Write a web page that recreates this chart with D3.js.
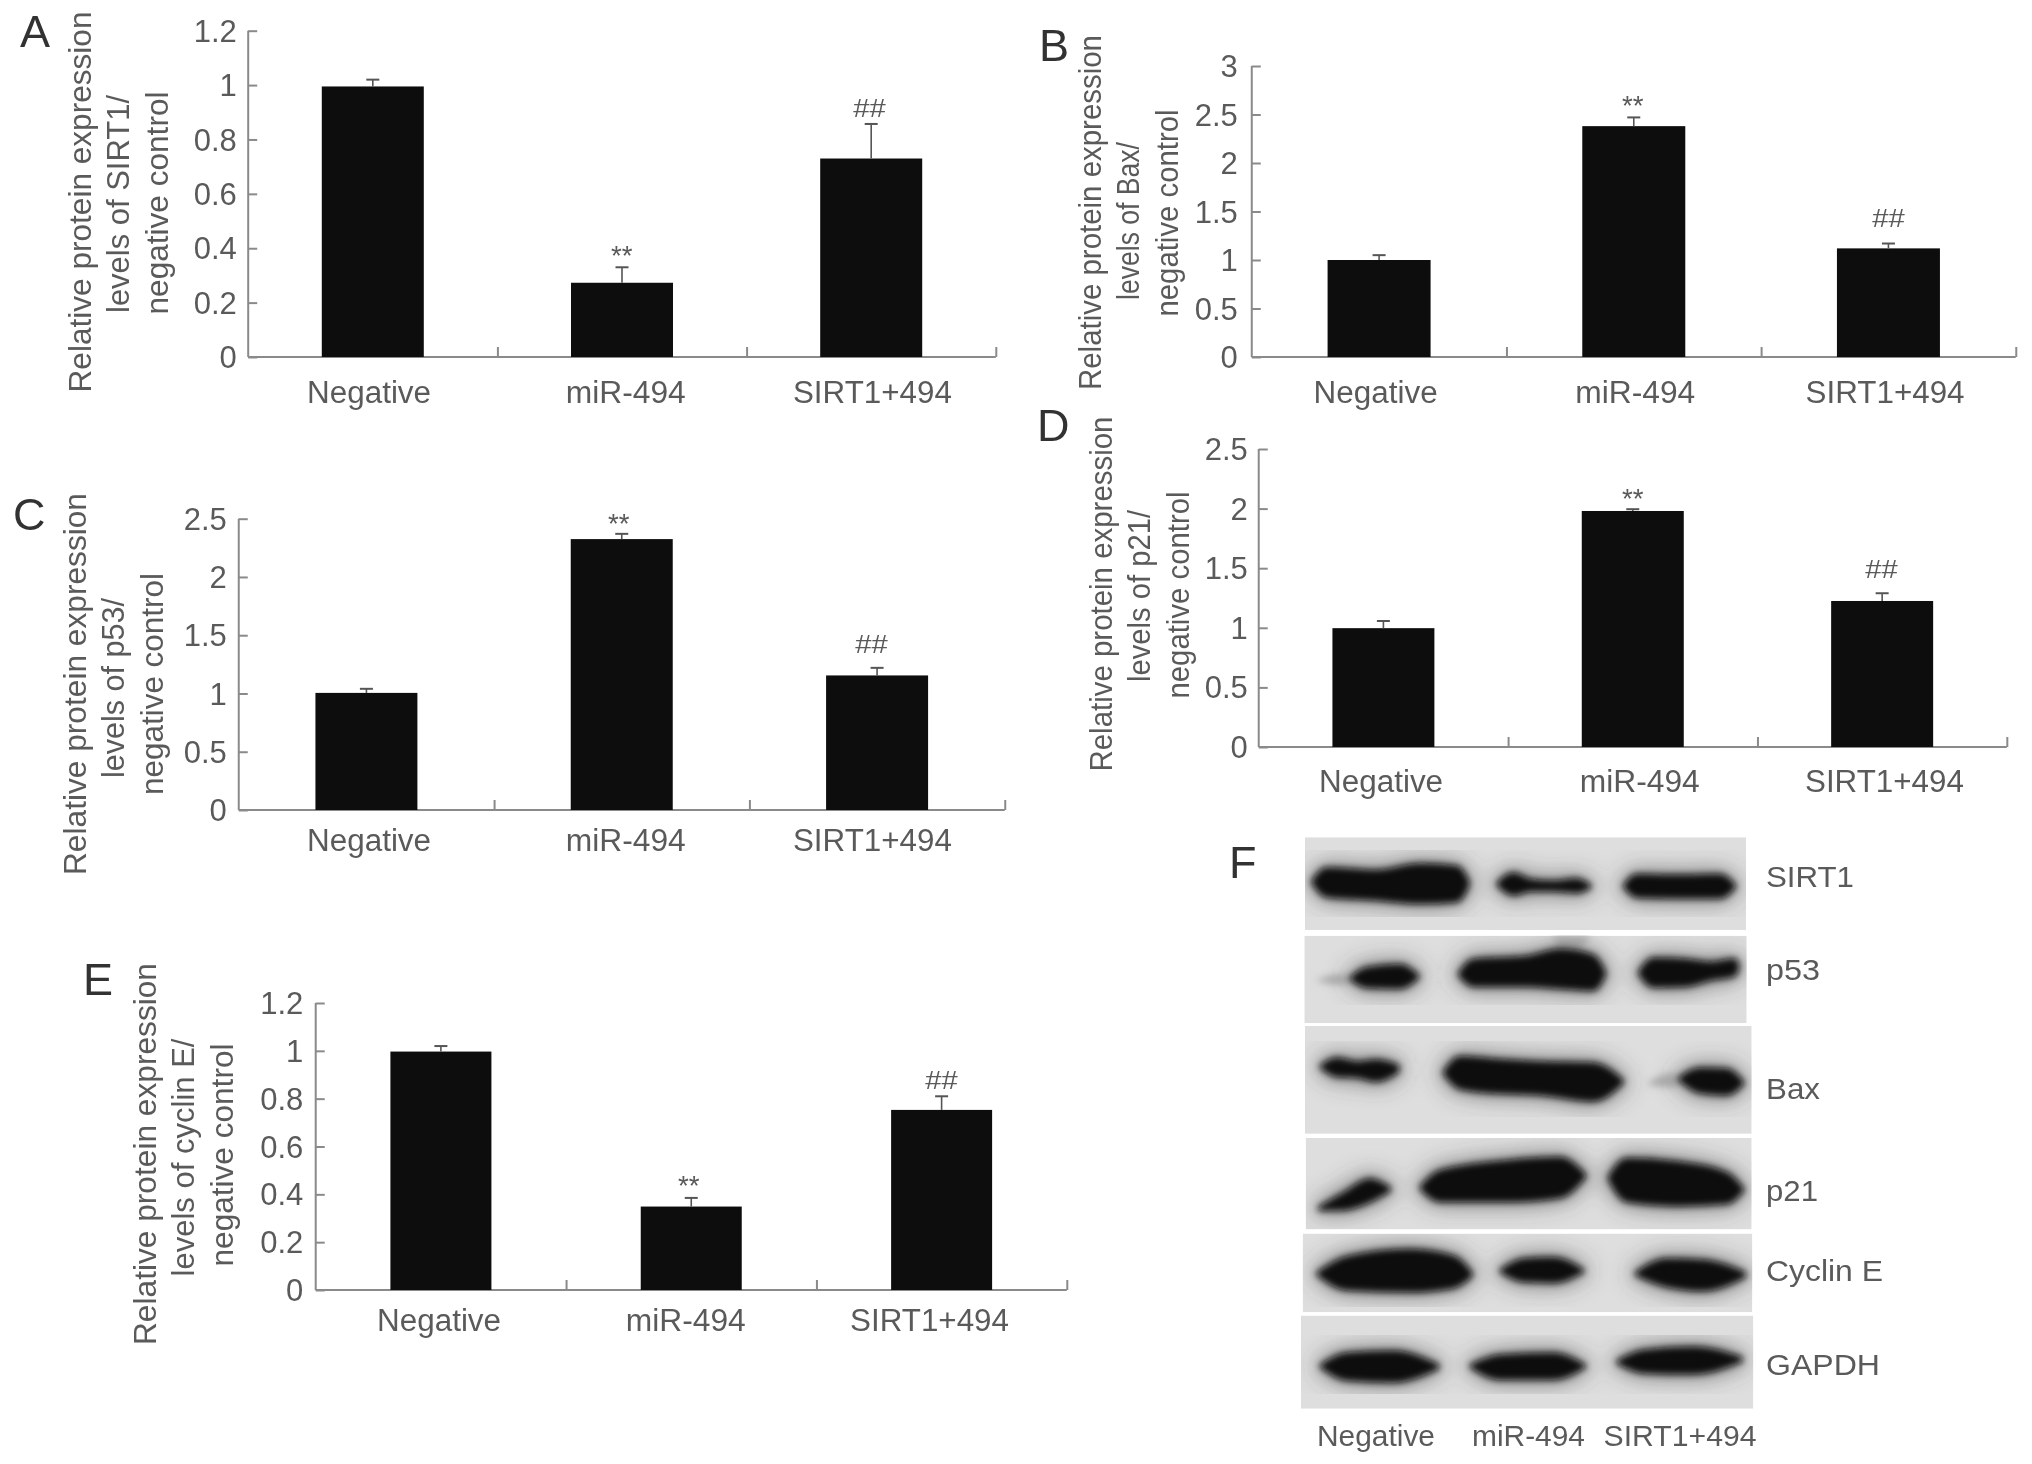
<!DOCTYPE html>
<html><head><meta charset="utf-8">
<script src="https://cdn.jsdelivr.net/npm/d3@7/dist/d3.min.js"></script>
<style>html,body{margin:0;padding:0;background:#fff}svg{display:block}text{font-family:"Liberation Sans",Arial,sans-serif}</style>
</head><body><svg id="c" width="2032" height="1464"></svg>
<script>
// ---------- data ----------
const categories = ["Negative", "miR-494", "SIRT1+494"];
const valuesA = [0.995, 0.273, 0.73],  errTopA = [1.02, 0.33, 0.857];
const valuesB = [1.0, 2.38, 1.12],     errTopB = [1.05, 2.47, 1.17];
const valuesC = [1.005, 2.325, 1.155], errTopC = [1.04, 2.37, 1.22];
const valuesD = [0.997, 1.98, 1.225],  errTopD = [1.057, 1.995, 1.29];
const valuesE = [0.997, 0.349, 0.753], errTopE = [1.02, 0.385, 0.81];
const ticks12 = [0, 0.2, 0.4, 0.6, 0.8, 1, 1.2];
const ticks30 = [0, 0.5, 1, 1.5, 2, 2.5, 3];
const ticks25 = [0, 0.5, 1, 1.5, 2, 2.5];
const blotLabels = ["SIRT1", "p53", "Bax", "p21", "Cyclin E", "GAPDH"];
// blot band outlines, in blot units: [along, upper edge, lower edge]
const bandsSIRT1 = [
  [[160,150,152],[200,120,184],[350,126,192],[480,110,200],[590,116,196],[622,150,160]],
  [[715,155,157],[760,132,180],[810,148,170],[880,152,170],[950,146,174],[988,160,163]],
  [[1095,160,162],[1130,136,185],[1250,138,187],[1380,136,187],[1422,160,163]]];
const bandsP53 = [
  [[275,385,387],[320,363,405],[420,356,407],[472,380,383]],
  [[600,375,377],[640,343,402],[800,336,402],[900,318,407],[1000,333,412],[1032,372,376]],
  [[1140,372,374],[1180,340,404],[1280,343,402],[1350,350,387],[1425,342,376],[1432,355,358]]];
const bandsBax = [
  [[185,600,602],[230,583,622],[290,593,624],[350,588,634],[412,600,612]],
  [[555,615,618],[600,580,652],[700,586,662],[850,593,667],[1000,596,682],[1085,635,640]],
  [[1260,630,632],[1320,608,662],[1400,610,667],[1447,640,642]]];
const bandsP21 = [
  [[180,945,948],[250,913,947],[330,878,927],[387,898,902]],
  [[485,895,897],[540,858,927],[750,833,927],[900,826,917],[972,865,870]],
  [[1050,870,875],[1100,828,927],[1250,836,937],[1400,863,932],[1447,900,902]]];
const bandsCyclinE = [
  [[175,1105,1107],[260,1068,1142],[450,1050,1147],[580,1066,1137],[632,1105,1110]],
  [[725,1098,1100],[790,1073,1122],[880,1070,1124],[967,1098,1100]],
  [[1130,1105,1107],[1220,1073,1134],[1330,1076,1144],[1452,1105,1112]]];
const bandsGAPDH = [
  [[185,1330,1332],[260,1303,1362],[400,1298,1367],[532,1330,1335]],
  [[635,1330,1332],[720,1308,1360],[880,1303,1360],[972,1330,1332]],
  [[1075,1320,1322],[1150,1296,1344],[1300,1288,1347],[1442,1312,1318]]];
const faintBands = [
  [[170,390,392],[240,376,402],[290,385,387]],
  [[1165,640,645],[1230,618,652],[1275,632,636]],
  [[880,285,287],[920,285,330],[990,285,287]]];

// ---------- layout ----------
const TICK = "#5a5a5a", AXIS = "#8a8a8a", BAR = "#111";
const k = 0.9948;
const fx = (ox, v) => ox + (v - ox) * k;
const panels = [
 {ox:0,letter:"A",lx:20,lb:47,x0:249.5,x1:1001,yt:30.7,yb:357,max:1.2,ticks:ticks12,v:valuesA,e:errTopA,bw:102,tr:238,
  labels:[371,629,877],lbase:403,
  title:[["Relative protein expression",91,202,381],["levels of SIRT1/",130,204,218],["negative control",169,203,223]],
  star:[625,250],hash:[874,108]},
 {ox:1016,letter:"B",lx:1039,lb:61,x0:1253,x1:2021,yt:66,yb:357,max:3,ticks:ticks30,v:valuesB,e:errTopB,bw:103,tr:1239,
  labels:[1377.5,1638.5,1889.6],lbase:403,
  title:[["Relative protein expression",1101,212.5,355],["levels of Bax/",1140,221,158],["negative control",1179,213,207]],
  star:[1636,100],hash:[1893,218]},
 {ox:0,letter:"C",lx:13,lb:530,x0:240,x1:1010,yt:518.7,yb:810,max:2.5,ticks:ticks25,v:valuesC,e:errTopC,bw:102,tr:228,
  labels:[371,629,877],lbase:851,
  title:[["Relative protein expression",86,684,382],["levels of p53/",125,688,180],["negative control",164,684,222]],
  star:[622,518],hash:[876,644]},
 {ox:1016,letter:"D",lx:1037,lb:441,x0:1260,x1:2012,yt:449,yb:747,max:2.5,ticks:ticks25,v:valuesD,e:errTopD,bw:102,tr:1249,
  labels:[1383,1643,1889],lbase:792,
  title:[["Relative protein expression",1112,594,355],["levels of p21/",1151,596,172],["negative control",1190,595,207]],
  star:[1636,493],hash:[1886,569]},
 {ox:70,letter:"E",lx:83,lb:995,x0:317,x1:1072,yt:1003,yb:1290,max:1.2,ticks:ticks12,v:valuesE,e:errTopE,bw:101,tr:304.5,
  labels:[441,689,934],lbase:1331,
  title:[["Relative protein expression",156,1154,382],["levels of cyclin E/",195,1157.5,238],["negative control",234,1155,223]],
  star:[692,1180],hash:[946,1080]}
];

const svg = d3.select("#c");
const defs = svg.append("defs");
function blur(id, s){
  defs.append("filter").attr("id",id).attr("x","-20%").attr("y","-40%").attr("width","140%").attr("height","180%")
    .append("feGaussianBlur").attr("stdDeviation",s);
}
blur("soft",0.55); blur("core",3.6); blur("halo",11);

const charts = svg.append("g").attr("filter","url(#soft)");
function label(g,x,y,str,size,anchor,fill,len){
  const t = g.append("text").attr("x",x).attr("y",y).attr("font-size",size)
    .attr("text-anchor",anchor).attr("fill",fill).text(str);
  if(len) t.attr("textLength",len).attr("lengthAdjust","spacingAndGlyphs");
  return t;
}

panels.forEach(p=>{
  const g = charts.append("g");
  const X0 = fx(p.ox,p.x0), X1 = fx(p.ox,p.x1);
  const x = d3.scaleBand().domain(categories).range([X0,X1]);
  const pad = 1 - p.bw/x.step();
  x.paddingInner(pad).paddingOuter(pad/2);
  const y = d3.scaleLinear().domain([0,p.max]).range([p.yb,p.yt]);

  // y axis, ticks pointing inward
  const ya = g.append("g").attr("transform",`translate(${X0},0)`)
    .call(d3.axisLeft(y).tickValues(p.ticks).tickSize(-9).tickPadding(0).tickFormat(d=>String(d)));
  ya.selectAll("path,line").attr("stroke",AXIS).attr("stroke-width",2);
  ya.select("path").attr("d",`M0,${p.yt}V${p.yb}`);
  ya.selectAll("text").attr("font-size",31).attr("fill",TICK)
    .attr("font-family",null).attr("x",fx(p.ox,p.tr)-X0).attr("dy","0.34em");

  // x axis with separators at the band edges
  const sep = d3.scaleLinear().domain([0,categories.length]).range([X0,X1]);
  const xa = g.append("g").attr("transform",`translate(0,${p.yb})`)
    .call(d3.axisBottom(sep).tickValues([1,2,3]).tickSize(-10).tickFormat(""));
  xa.selectAll("path,line").attr("stroke",AXIS).attr("stroke-width",2);
  xa.select("path").attr("d",`M${X0},0H${X1}`);

  // bars
  g.selectAll("rect.b").data(categories).join("rect").attr("class","b")
    .attr("x",d=>x(d)).attr("width",x.bandwidth())
    .attr("y",(d,i)=>y(p.v[i])).attr("height",(d,i)=>p.yb-y(p.v[i])).attr("fill",BAR);
  // error bars
  categories.forEach((c,i)=>{
    const cx = x(c)+x.bandwidth()/2;
    g.append("line").attr("x1",cx).attr("x2",cx).attr("y1",y(p.v[i])).attr("y2",y(p.e[i]))
      .attr("stroke","#555").attr("stroke-width",1.6);
    g.append("line").attr("x1",cx-6.5).attr("x2",cx+6.5).attr("y1",y(p.e[i])).attr("y2",y(p.e[i]))
      .attr("stroke","#555").attr("stroke-width",2);
  });

  // category labels
  const widths = [124,120,159];
  categories.forEach((c,i)=>label(g,fx(p.ox,p.labels[i]),p.lbase,c,31,"middle",TICK,widths[i]));

  // y title
  p.title.forEach(([s,bx,cy,len])=>{
    label(g,0,0,s,31,"middle",TICK,len).attr("transform",`translate(${fx(p.ox,bx)},${cy}) rotate(-90)`);
  });

  // significance marks
  label(g,fx(p.ox,p.star[0]),p.star[1]+15,"**",27,"middle",TICK,21.5);
  label(g,fx(p.ox,p.hash[0]),p.hash[1]+9,"##",26,"middle",TICK,32.5);
  // panel letter
  label(g,fx(p.ox,p.lx),p.lb,p.letter,45,"start","#333");
});

// ---------- panel F ----------
const bx = d3.scaleLinear().domain([0,1560]).range([1260,1780]);
const by = d3.scaleLinear().domain([0,1560]).range([820,1460]);
const rows = [
  {box:[135,1458,42,268],bands:bandsSIRT1},
  {box:[133,1460,282,495],bands:bandsP53},
  {box:[135,1475,502,765],bands:bandsBax},
  {box:[137,1475,775,998],bands:bandsP21},
  {box:[128,1477,1008,1200],bands:bandsCyclinE},
  {box:[123,1480,1208,1435],bands:bandsGAPDH}
];
const area = d3.area().x(d=>bx(d[0])).y0(d=>by(d[1])).y1(d=>by(d[2])).curve(d3.curveMonotoneX);
const blot = svg.append("g");
rows.forEach((r,i)=>{
  const [a,b,c,d] = r.box;
  const id = "row"+i;
  defs.append("clipPath").attr("id",id).append("rect")
    .attr("x",bx(a)).attr("y",by(c)).attr("width",bx(b)-bx(a)).attr("height",by(d)-by(c));
  const g = blot.append("g").attr("clip-path",`url(#${id})`);
  g.append("rect").attr("x",bx(a)).attr("y",by(c)).attr("width",bx(b)-bx(a)).attr("height",by(d)-by(c)).attr("fill","#dedede");
  g.append("g").attr("filter","url(#halo)").selectAll("path").data(r.bands).join("path")
    .attr("d",area).attr("fill","#444").attr("stroke","#444").attr("stroke-width",12).attr("opacity",0.6);
  g.append("g").attr("filter","url(#core)").selectAll("path").data(faintBands).join("path")
    .attr("d",area).attr("fill","#999").attr("opacity",0.75);
  g.append("g").attr("filter","url(#core)").selectAll("path").data(r.bands).join("path")
    .attr("d",area).attr("fill","#0c0c0c").attr("stroke","#0c0c0c").attr("stroke-width",4);
});
const bf = svg.append("g").attr("filter","url(#soft)");
label(bf,1229,878,"F",45,"start","#333");
const rowBase = [887,980,1099,1201,1281,1375];
const rowLen = [88,54,54,52,117,114];
blotLabels.forEach((s,i)=>label(bf,1766,rowBase[i],s,30,"start",TICK,rowLen[i]));
const bottomX = [1376,1528.5,1680], bottomLen = [118,113,153];
categories.forEach((c,i)=>label(bf,bottomX[i],1446,c,29,"middle",TICK,bottomLen[i]));
</script></body></html>
